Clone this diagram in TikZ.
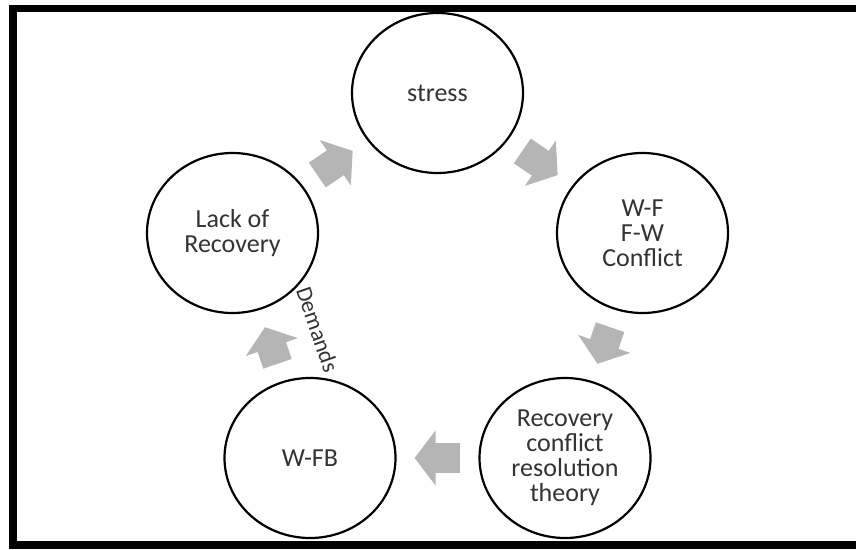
\documentclass[tikz,border=0pt]{standalone}
\usepackage{fontspec}
\setmainfont{Carlito}
\usepackage{tikz}
\usetikzlibrary{arrows.meta}
\usetikzlibrary{shapes.geometric}
\definecolor{arrowgray}{gray}{0.71}
\tikzset{stage/.style = {draw, shape = ellipse, line width = 2.2pt, minimum width = 171pt,
                         minimum height = 160pt, inner sep = 0, align = center, text = black!80,
                         font = \fontsize{26}{25}\selectfont}}
\tikzset{flow/.style = {draw = arrowgray, line width = 30pt, -{Triangle[width = 54pt, length = 21pt]},
                        shorten < = 18pt, shorten > = 18pt}}
\begin{document}
\begin{tikzpicture}[x = 1pt, y = -1pt]
      \useasboundingbox (0, 0) rectangle (856, 549);
      \clip (0, 0) rectangle (856, 549);
      \draw [line width = 7.5pt] (13, 8.7) rectangle (900, 545);

      \node [stage] (stress) at (437.5, 93) {stress};
      \node [stage] (conflict) at (642.5, 233) {W-F\\F-W\\Conflict};
      \node [stage] (recovery) at (565, 458) {Recovery\\conflict\\resolution\\theory};
      \node [stage] (wfb) at (310, 458) {W-FB};
      \node [stage] (lack) at (232.5, 233) {Lack of\\Recovery};

      \draw [flow] (stress) -- (conflict);
      \draw [flow] (conflict) -- (recovery);
      \draw [flow] (recovery) -- (wfb);
      \draw [flow] (wfb) -- node [sloped, above = 26pt, inner sep = 0, text = black!80,
                                  font = \fontsize{23}{27}\selectfont] (demands) {Demands} (lack);
      \draw [flow] (lack) -- (stress);
    \end{tikzpicture}
\end{document}
